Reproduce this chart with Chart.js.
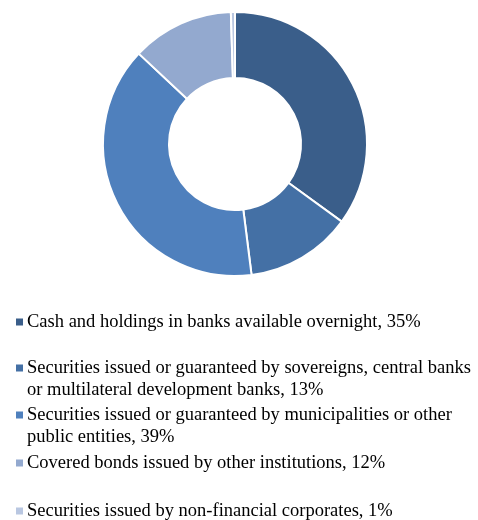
<!DOCTYPE html>
<html>
<head>
<meta charset="utf-8">
<script src="https://cdn.jsdelivr.net/npm/chart.js@4.4.0/dist/chart.umd.min.js"></script>
<style>
  html, body { margin: 0; padding: 0; background: #fff; }
</style>
</head>
<body>
<div style="position:relative;width:478px;height:520px;">
  <canvas id="c"></canvas>
</div>
<script>
const labels = [
  "Cash and holdings in banks available overnight",
  "Securities issued or guaranteed by sovereigns, central banks or multilateral development banks",
  "Securities issued or guaranteed by municipalities or other public entities",
  "Covered bonds issued by other institutions",
  "Securities issued by non-financial corporates"
];
// rounded shares as printed in the legend
const shares = [35, 13, 39, 12, 1];
// slice sizes as measured on the ring (the last one is a thin sliver)
const sliceValues = [35, 13, 39, 12.5, 0.5];
const colors = ["#3a5e8a", "#4470a5", "#4f80bd", "#93a9cf", "#b9c7e1"];

// legend rows sit at uneven heights, like the original export
const legendRowY = [322, 368, 415, 463, 511];

// draws the legend under the ring, wrapping long labels
const legendBelow = {
  id: "legendBelow",
  afterDraw(chart) {
    const ctx = chart.ctx;
    ctx.save();
    ctx.font = "18.5px 'Liberation Serif', serif";
    ctx.textBaseline = "middle";
    const maxW = 450;
    labels.forEach((lab, i) => {
      const y0 = legendRowY[i];
      ctx.fillStyle = colors[i];
      ctx.fillRect(16, y0 - 3.5, 7, 7);
      ctx.fillStyle = "#000";
      const words = (lab + ", " + shares[i] + "%").split(" ");
      let line = "";
      let y = y0;
      words.forEach(w => {
        const test = line ? line + " " + w : w;
        if (ctx.measureText(test).width > maxW && line) {
          ctx.fillText(line, 27, y);
          line = w;
          y += 22;
        } else {
          line = test;
        }
      });
      ctx.fillText(line, 27, y);
    });
    ctx.restore();
  }
};

const ctx = document.getElementById("c").getContext("2d");
const chart = new Chart(ctx, {
  type: "doughnut",
  data: {
    labels: labels,
    datasets: [{
      data: sliceValues,
      backgroundColor: colors,
      borderColor: "#ffffff",
      borderWidth: 2
    }]
  },
  options: {
    responsive: true,
    maintainAspectRatio: false,
    animation: false,
    cutout: "50%",
    layout: { padding: { left: 0, right: 8, top: 11, bottom: 243 } },
    plugins: {
      legend: { display: false },
      tooltip: { enabled: false }
    }
  },
  plugins: [legendBelow]
});
</script>
</body>
</html>
